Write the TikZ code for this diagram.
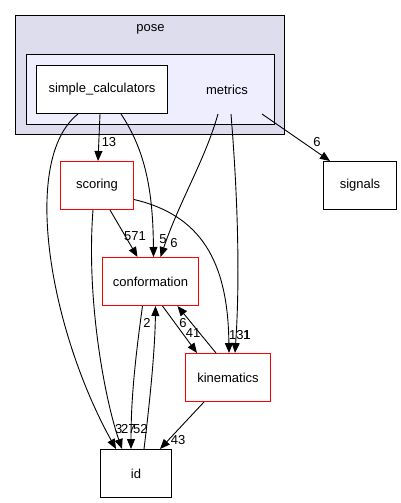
\documentclass[tikz,border=0pt]{standalone}
\usepackage{fontspec}
\setmainfont{Liberation Sans}
\usetikzlibrary{arrows.meta}
\begin{document}
\begin{tikzpicture}[x=1pt,y=-1pt,
  dirbox/.style={draw=black,line width=1pt,fill=white,inner sep=0pt,minimum height=48pt,font=\fontsize{13}{15}\selectfont},
  redbox/.style={dirbox,draw=red},
  dep/.style={line width=0.9pt,-{Triangle[length=10pt,width=8pt]}},
  num/.style={inner sep=0pt,font=\fontsize{13}{15}\selectfont}]
\useasboundingbox (0,0) rectangle (401,503);
\node[draw=black,line width=1pt,fill={rgb,255:red,221;green,221;blue,238},minimum width=269pt,minimum height=119pt,inner sep=0pt] (posecl) at (150,75) {};
\node[num] (posetxt) at (150.5,29) {pose};
\node[draw=black,line width=1pt,fill={rgb,255:red,238;green,238;blue,255},minimum width=248pt,minimum height=70pt,inner sep=0pt] (metricscl) at (150.5,89.5) {};
\node[dirbox,draw=none,fill=none,minimum width=90pt] (metrics) at (227,89.5) {metrics};
\node[dirbox,minimum width=131pt] (simple) at (102,89.5) {simple\_calculators};
\node[dirbox,minimum width=73pt] (signals) at (360,185.5) {signals};
\node[redbox,minimum width=73pt] (scoring) at (97,185.5) {scoring};
\node[redbox,minimum width=96pt] (conformation) at (150.5,281.5) {conformation};
\node[redbox,minimum width=85pt] (kinematics) at (228,377.5) {kinematics};
\node[dirbox,minimum width=71pt] (id) at (136,473.5) {id};
\draw[dep] ([xshift=-2pt]simple.south) -- ([xshift=1pt]scoring.north);
\draw[dep] ([xshift=-24pt]simple.south) .. controls (20,160) and (50,330) .. ([xshift=-20pt]id.north);
\draw[dep] ([xshift=19pt]simple.south) .. controls (145,150) and (153,190) .. ([xshift=3pt]conformation.north);
\draw[dep] ([xshift=-9pt]metrics.south) .. controls (205,160) and (180,200) .. ([xshift=10pt]conformation.north);
\draw[dep] ([xshift=4pt]metrics.south) .. controls (238,200) and (240,280) .. ([xshift=7pt]kinematics.north);
\draw[dep] ([xshift=35pt]metrics.south) -- ([xshift=-30pt]signals.north);
\draw[dep] ([xshift=13pt]scoring.south) -- ([xshift=-13pt]conformation.north);
\draw[dep] ([yshift=-14pt]scoring.east) .. controls (200,215) and (228,260) .. ([xshift=1pt]kinematics.north);
\draw[dep] ([xshift=-4pt]scoring.south) .. controls (86,300) and (105,400) .. ([xshift=-14pt]id.north);
\draw[dep] ([xshift=-8pt]conformation.south) .. controls (135,360) and (131,400) .. ([xshift=-5pt]id.north);
\draw[dep] ([xshift=8pt]id.north) .. controls (150,400) and (155,350) .. ([xshift=5pt]conformation.south);
\draw[dep] ([xshift=12pt]conformation.south) -- ([xshift=-31pt]kinematics.north);
\draw[dep] ([xshift=-12pt]kinematics.north) -- ([xshift=27pt]conformation.south);
\draw[dep] ([xshift=-24pt]kinematics.south) -- ([xshift=24pt]id.north);
\node[num] (l13) at (109,142) {13};
\node[num] (l6a) at (317,142) {6};
\node[num] (l571) at (135,236) {571};
\node[num] (l5) at (163,239) {5};
\node[num] (l6b) at (174,243) {6};
\node[num] (l2) at (147,323) {2};
\node[num] (l6c) at (183,323) {6};
\node[num] (l41) at (193,333) {41};
\node[num,anchor=west] (l131) at (229,335) {131};
\node[num,anchor=west] (l1) at (243,335) {1};
\node[num,anchor=west] (l3) at (115,429) {3};
\node[num,anchor=west] (l27) at (121,429) {27};
\node[num,anchor=west] (l52) at (133,429) {52};
\node[num] (l43) at (178,440) {43};
\end{tikzpicture}
\end{document}
